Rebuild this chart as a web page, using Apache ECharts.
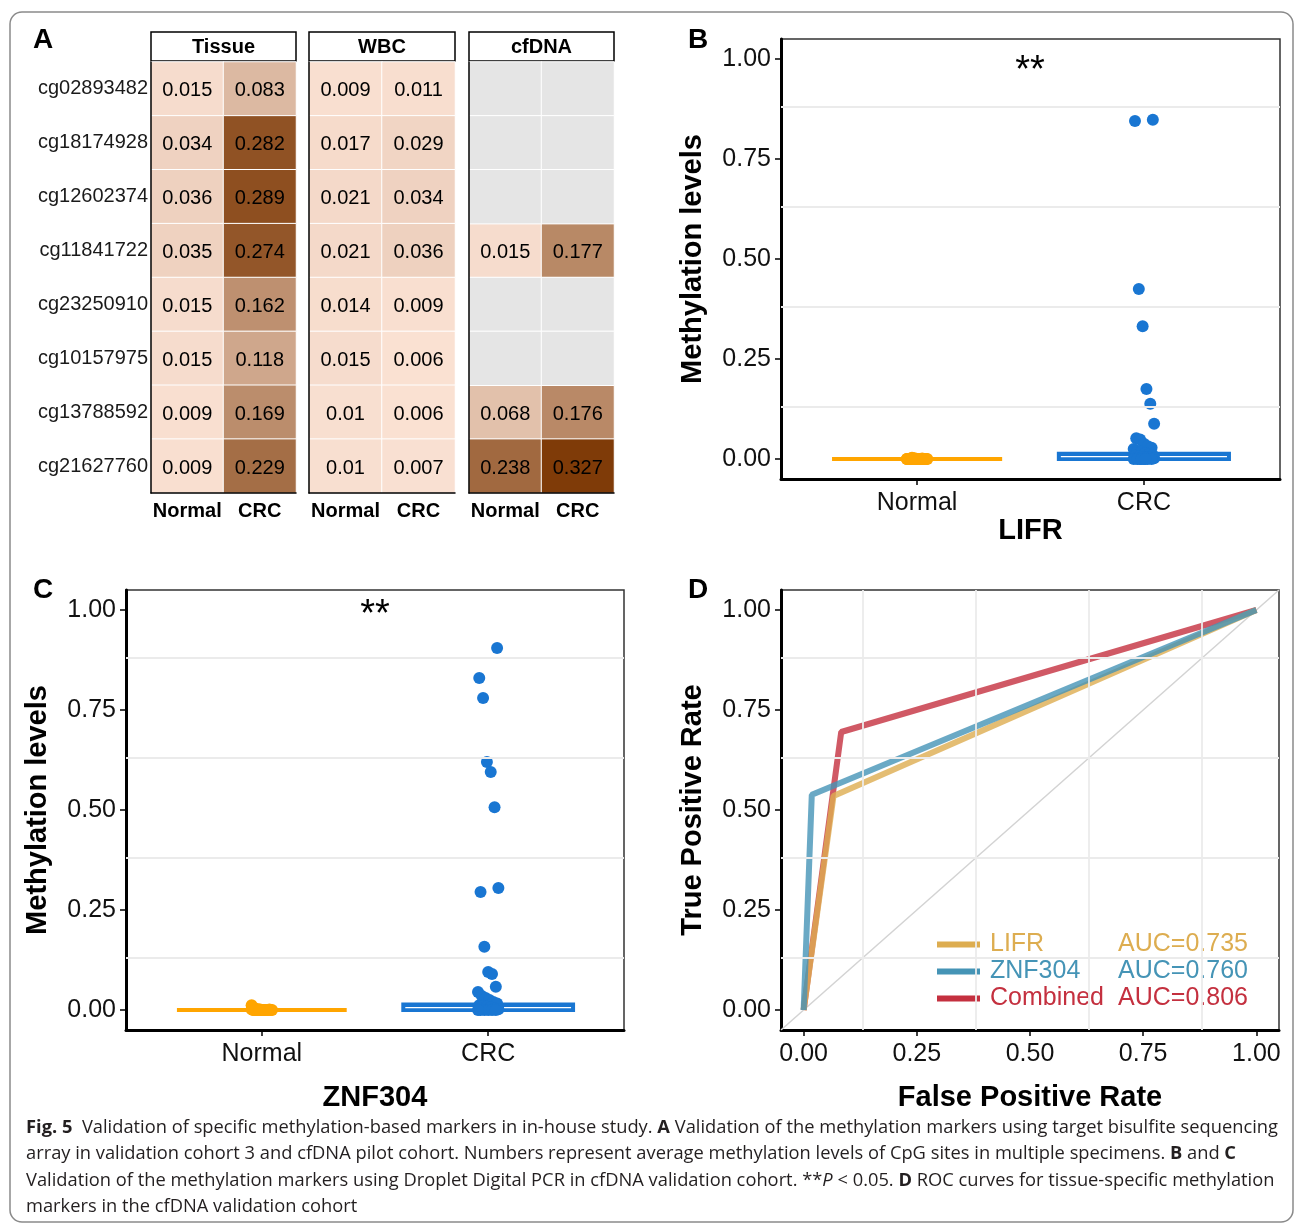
<!DOCTYPE html>
<html><head><meta charset="utf-8">
<script src="https://cdn.jsdelivr.net/npm/echarts@6/dist/echarts.min.js"></script>
<style>html,body{margin:0;padding:0;background:#fff}#c{width:1295px;height:1225px}</style>
</head><body><div id="c"></div>
<script>
// ---------- Panel A data ----------
const cpgSites = ['cg02893482','cg18174928','cg12602374','cg11841722','cg23250910','cg10157975','cg13788592','cg21627760'];
const groups = ['Normal','CRC'];
const specimenTypes = ['Tissue','WBC','cfDNA'];
const tissueNormal = [0.015,0.034,0.036,0.035,0.015,0.015,0.009,0.009];
const tissueCRC    = [0.083,0.282,0.289,0.274,0.162,0.118,0.169,0.229];
const wbcNormal    = [0.009,0.017,0.021,0.021,0.014,0.015,0.01,0.01];
const wbcCRC       = [0.011,0.029,0.034,0.036,0.009,0.006,0.006,0.007];
const cfdnaNormal  = [null,null,null,0.015,null,null,0.068,0.238];
const cfdnaCRC     = [null,null,null,0.177,null,null,0.176,0.327];

// ---------- Panel B (LIFR) ----------
const lifrNormal = [0,0,0,0,0,0,0,0,0,0,0,0,0,0,0,0,0,0,0.001,0.002,0,0.001,0,0,0.003];
const lifrCRC = [0.848,0.845,0.425,0.332,0.175,0.138,0.088,0.052,0.049,0.038,0.032,0.028,0.025,0.02,0.018,0.015,0.012,0.01,0.008,0.006,0.005,0.004,0.003,0.002,0.001,0,0,0,0,0,0,0,0];
const lifrQuartiles = [[0,0,0],[0,0.006,0.013]];   // [Q1, median, Q3] per group

// ---------- Panel C (ZNF304) ----------
const znfNormal = [0.012,0.004,0.002,0,0,0,0,0,0,0,0,0,0,0,0,0,0.001,0.002,0,0];
const znfCRC = [0.905,0.83,0.78,0.62,0.595,0.507,0.305,0.295,0.158,0.095,0.09,0.058,0.045,0.035,0.03,0.025,0.02,0.016,0.012,0.01,0.008,0.006,0.004,0.002,0,0,0,0,0,0];
const znfQuartiles = [[0,0,0],[0,0.006,0.014]];

// ---------- Panel D (ROC) ----------
const rocNames = ['LIFR','ZNF304','Combined'];
const rocAUC = ['0.735','0.760','0.806'];
const lifrFPR = [0,0.066,1], lifrTPR = [0,0.535,1];
const znfFPR  = [0,0.018,1], znfTPR  = [0,0.538,1];
const combFPR = [0,0.083,1], combTPR = [0,0.695,1];

// ---------- axis ticks ----------
const levelTicks = [0,0.25,0.5,0.75,1];
const minorLines = [0.125,0.375,0.625,0.875];
const axisLimits = [-0.05,1.05];

// ---------- style ----------
const FONT = '"Liberation Sans", Arial, sans-serif';
const ORANGE = '#FFA500', BLUE = '#1976D2';
const rocColors = ['#DDAD50','#4594B6','#C4303F'];

const chart = echarts.init(document.getElementById('c'), null, {renderer:'canvas', width:1295, height:1225});

function hmData(a, b, na){
  const d = [];
  [a,b].forEach((arr,xi)=>arr.forEach((v,yi)=>{
    if (!na && v !== null) d.push([xi,yi,v]);
    if (na && v === null) d.push([xi,yi,0]);
  }));
  return d;
}
const jit = i => (((i*37) % 17)/16 - 0.5) * 0.09;

const hmGrids = [
  {left:151, top:62, width:145, height:431},
  {left:309, top:62, width:146, height:431},
  {left:469, top:62, width:145, height:431}
];
const grids = hmGrids.concat([
  {left:781, top:39, width:499, height:440, show:true, borderColor:'#333', borderWidth:1.5, backgroundColor:'#fff'},
  {left:126, top:590, width:498, height:440, show:true, borderColor:'#333', borderWidth:1.5, backgroundColor:'#fff'},
  {left:781, top:590, width:498, height:440, show:true, borderColor:'#333', borderWidth:1.5, backgroundColor:'#fff'}
]);

const xAxes = [], yAxes = [];
for (let g=0; g<3; g++){
  xAxes.push({type:'category', gridIndex:g, data:groups, z:10,
    axisLine:{show:true, lineStyle:{color:'#000', width:1.5}}, axisTick:{show:false},
    axisLabel:{interval:0, fontSize:20, fontWeight:'bold', color:'#000', margin:8, fontFamily:FONT},
    splitLine:{show:false}});
  yAxes.push({type:'category', gridIndex:g, data:cpgSites, inverse:true, z:10,
    axisLine:{show:true, lineStyle:{color:'#000', width:1.5}}, axisTick:{show:false},
    axisLabel:{show:g===0, interval:0, fontSize:20, color:'#1a1a1a', margin:3, padding:[4,0,0,0], fontFamily:FONT},
    splitLine:{show:false}});
}
function catX(gi, name){
  return {type:'value', gridIndex:gi, min:0.4, max:2.6, name:name, nameLocation:'middle', nameGap:37,
    nameTextStyle:{fontSize:29, fontWeight:'bold', color:'#000', fontFamily:FONT},
    axisLine:{show:true, onZero:false, lineStyle:{color:'#000', width:3}},
    axisTick:{show:true, length:6, customValues:[1,2], lineStyle:{color:'#000', width:1.5}},
    axisLabel:{customValues:[1,2], formatter:v=>groups[Math.round(v)-1], fontSize:25, color:'#111', margin:12, fontFamily:FONT},
    splitLine:{show:false}};
}
function levelAxis(gi, name, gap, isX){
  return {type:'value', gridIndex:gi, min:axisLimits[0], max:axisLimits[1], name:name, nameLocation:'middle', nameGap:gap,
    nameTextStyle:{fontSize:29, fontWeight:'bold', color:'#000', fontFamily:FONT},
    axisLine:{show:true, onZero:false, lineStyle:{color:'#000', width:3}},
    axisTick:{show:true, length:6, customValues:levelTicks, lineStyle:{color:'#000', width:1.5}},
    axisLabel:{customValues:levelTicks, formatter:v=>v.toFixed(2), fontSize:25, color:'#111',
      margin: isX ? 12 : 10, padding: isX ? 0 : [4,0,0,0], fontFamily:FONT},
    splitLine:{show:false}};
}
xAxes.push(catX(3,'LIFR'));            yAxes.push(levelAxis(3,'Methylation levels',74));
xAxes.push(catX(4,'ZNF304'));          yAxes.push(levelAxis(4,'Methylation levels',74));
xAxes.push(levelAxis(5,'False Positive Rate',53,true)); yAxes.push(levelAxis(5,'True Positive Rate',74));
xAxes[4].nameGap = 53;

const series = [];
const hmLabel = {show:true, formatter:p=>String(p.value[2]), fontSize:20, color:'#000', fontFamily:FONT, offset:[0,2]};
[[tissueNormal,tissueCRC],[wbcNormal,wbcCRC],[cfdnaNormal,cfdnaCRC]].forEach((pair,g)=>{
  series.push({type:'heatmap', xAxisIndex:g, yAxisIndex:g, z:1, data:hmData(pair[0],pair[1],false),
    label:hmLabel, itemStyle:{borderColor:'#fff', borderWidth:1}, emphasis:{disabled:true}});
});
series.push({type:'heatmap', xAxisIndex:2, yAxisIndex:2, z:1, data:hmData(cfdnaNormal,cfdnaCRC,true),
  label:{show:false}, itemStyle:{color:'#E5E5E5', borderColor:'#fff', borderWidth:1}, emphasis:{disabled:true}});

function gridLinesSeries(ax, horizOnly){
  const d = minorLines.map(v=>({yAxis:v}));
  if (!horizOnly) minorLines.forEach(v=>d.push({xAxis:v}));
  return {type:'line', xAxisIndex:ax, yAxisIndex:ax, data:[], z:0, silent:true,
    markLine:{silent:true, symbol:['none','none'], label:{show:false}, animation:false,
      lineStyle:{color:'#EBEBEB', width:1.8, type:'solid'}, emphasis:{disabled:true}, data:d}};
}
function boxSeries(ax, quart){
  return {type:'custom', xAxisIndex:ax, yAxisIndex:ax, z:2, silent:true,
    data: quart.map((q,i)=>({value:[i+1,q[0],q[1],q[2]], itemStyle:{color: i===0?ORANGE:BLUE}})),
    renderItem:(params, api)=>{
      const x = api.value(0), q1 = api.value(1), med = api.value(2), q3 = api.value(3);
      const w = api.size([0.75,0])[0];
      const top = api.coord([x,q3]), bot = api.coord([x,q1]), m = api.coord([x,med]);
      const color = api.visual('color');
      const children = [{type:'rect', shape:{x:top[0]-w/2, y:top[1], width:w, height:Math.max(bot[1]-top[1],0)},
        style:{fill:color, stroke:color, lineWidth:4}}];
      if (q3 > q1) children.push({type:'line', shape:{x1:top[0]-w/2+2, y1:m[1], x2:top[0]+w/2-2, y2:m[1]},
        style:{stroke:'#fff', lineWidth:1.2}});
      return {type:'group', children};
    }};
}
function pointSeries(ax, vals, gi, color){
  return {type:'scatter', xAxisIndex:ax, yAxisIndex:ax, z:3, symbolSize:12, silent:true,
    itemStyle:{color:color, opacity:1}, data: vals.map((v,i)=>[gi+1+jit(i+gi*5), v])};
}
// Panel B
series.push(gridLinesSeries(3,true), boxSeries(3,lifrQuartiles),
  pointSeries(3,lifrNormal,0,ORANGE), pointSeries(3,lifrCRC,1,BLUE));
// Panel C
series.push(gridLinesSeries(4,true), boxSeries(4,znfQuartiles),
  pointSeries(4,znfNormal,0,ORANGE), pointSeries(4,znfCRC,1,BLUE));
// Panel D
series.push(gridLinesSeries(5,false));
series.push({type:'line', name:'ref', xAxisIndex:5, yAxisIndex:5, z:1, silent:true, symbol:'none',
  lineStyle:{color:'#D3D3D3', width:1.5}, data: axisLimits.map(v=>[v,v])});
const rocData = [[lifrFPR,lifrTPR],[znfFPR,znfTPR],[combFPR,combTPR]];
[2,0,1].forEach(i=>{
  series.push({type:'line', name:rocNames[i], xAxisIndex:5, yAxisIndex:5, z:3, symbol:'none', silent:true,
    color:rocColors[i], itemStyle:{color:rocColors[i]},
    lineStyle:{color:rocColors[i], width:6, opacity:0.8},
    data: rocData[i][0].map((f,k)=>[f, rocData[i][1][k]])});
});

const rich = {};
rocNames.forEach((n,i)=>{
  rich['n'+i] = {width:128, padding:[0,0,0,5], color:rocColors[i], fontSize:25, fontFamily:FONT};
  rich['a'+i] = {color:rocColors[i], fontSize:25, fontFamily:FONT};
});

// ---------- caption ----------
const captionLines = [
  [['Fig. 5','b'],['  Validation of specific methylation-based markers in in-house study. ','r'],['A','b'],[' Validation of the methylation markers using target bisulfite sequencing','r']],
  [['array in validation cohort 3 and cfDNA pilot cohort. Numbers represent average methylation levels of CpG sites in multiple specimens. ','r'],['B','b'],[' and ','r'],['C','b']],
  [['Validation of the methylation markers using Droplet Digital PCR in cfDNA validation cohort. **','r'],['P','i'],[' < 0.05. ','r'],['D','b'],[' ROC curves for tissue-specific methylation','r']],
  [['markers in the cfDNA validation cohort','r']]
];
const CAP_FS = 18, CAP_FONT = 'Open Sans';
const mctx = document.createElement('canvas').getContext('2d');
function segFont(t){ return (t==='b'?'bold ':t==='i'?'italic ':'') + CAP_FS + 'px "' + CAP_FONT + '"'; }
let w1 = 0;
captionLines[0].forEach(([s,t])=>{ mctx.font = segFont(t); w1 += mctx.measureText(s).width; });
const capScale = 1252 / w1;
const capRich = {
  r:{fontSize:CAP_FS, fontFamily:CAP_FONT, fill:'#231F20'},
  b:{fontSize:CAP_FS, fontFamily:CAP_FONT, fontWeight:'bold', fill:'#231F20'},
  i:{fontSize:CAP_FS, fontFamily:CAP_FONT, fontStyle:'italic', fill:'#231F20'}
};
const capY = [1128,1154,1181,1207];

const graphic = [
  {type:'rect', shape:{x:10, y:12, width:1283, height:1210, r:12}, style:{fill:'none', stroke:'#8a8a8a', lineWidth:1.5}, z:-1, silent:true},
];
[['A',33,40],['B',688,40],['C',33,590],['D',688,590]].forEach(([t,x,y])=>{
  graphic.push({type:'text', x:x, y:y, silent:true, style:{text:t, fontSize:28, fontWeight:'bold', fontFamily:FONT, fill:'#000', verticalAlign:'middle'}});
});
hmGrids.forEach((g,i)=>{
  graphic.push({type:'rect', silent:true, shape:{x:g.left, y:32, width:g.width, height:29}, style:{fill:'#fff', stroke:'#000', lineWidth:1.5}});
  graphic.push({type:'text', silent:true, x:g.left+g.width/2, y:47, style:{text:specimenTypes[i], fontSize:20, fontWeight:'bold', fontFamily:FONT, fill:'#000', align:'center', verticalAlign:'middle'}});
});
graphic.push({type:'text', silent:true, x:1030, y:72, style:{text:'**', fontSize:38, fontFamily:FONT, fill:'#000', align:'center', verticalAlign:'middle'}});
graphic.push({type:'text', silent:true, x:375, y:616, style:{text:'**', fontSize:38, fontFamily:FONT, fill:'#000', align:'center', verticalAlign:'middle'}});
captionLines.forEach((segs,k)=>{
  graphic.push({type:'text', silent:true, x:26, y:capY[k], scaleX:capScale,
    style:{text: segs.map(([s,t])=>'{'+t+'|'+s+'}').join(''), rich:capRich, fontSize:CAP_FS, fontFamily:CAP_FONT, fill:'#231F20', verticalAlign:'middle'}});
});

chart.setOption({
  animation:false,
  backgroundColor:'#fff',
  textStyle:{fontFamily:FONT},
  grid:grids, xAxis:xAxes, yAxis:yAxes,
  visualMap:[
    {type:'continuous', show:false, min:0, max:0.327, seriesIndex:[0,1,2], inRange:{color:['#FCE4D6','#7F3B08']}},
    {type:'continuous', show:false, min:0, max:1, seriesIndex:[3], inRange:{color:['#E5E5E5','#E5E5E5']}}
  ],
  legend:{data:rocNames, orient:'vertical', left:932, top:927, itemWidth:43, itemHeight:6, itemGap:2, icon:'rect',
    selectedMode:false,
    formatter: name => { const i = rocNames.indexOf(name); return '{n'+i+'|'+name+'}{a'+i+'|AUC='+rocAUC[i]+'}'; },
    textStyle:{fontSize:25, lineHeight:25, fontFamily:FONT, rich:rich}},
  series:series,
  graphic:graphic
});
</script></body></html>
